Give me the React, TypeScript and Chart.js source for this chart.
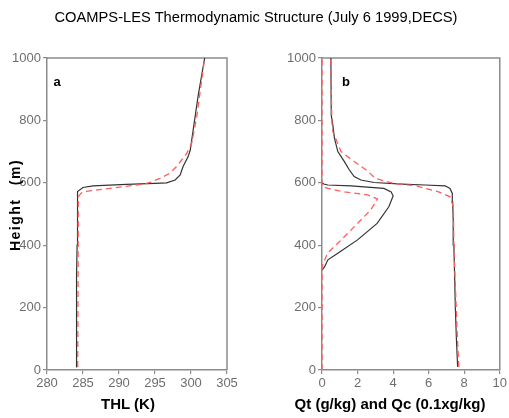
import React, { useEffect, useRef } from "react";
import { Chart, registerables } from "chart.js";

Chart.register(...registerables);

// ---------- text ----------
const chartTitle = "COAMPS-LES Thermodynamic Structure (July 6 1999,DECS)";
const yAxisTitle = "Height (m)";
const leftXTitle = "THL (K)";
const rightXTitle = "Qt (g/kg) and Qc (0.1xg/kg)";
const leftPanelLabel = "a";
const rightPanelLabel = "b";

// ---------- ticks ----------
const heightTicks = [0, 200, 400, 600, 800, 1000];
const thlTicks = [280, 285, 290, 295, 300, 305];
const qTicks = [0, 2, 4, 6, 8, 10];

// ---------- panel a: THL ----------
const thlSolidHeight = [10, 100, 200, 300, 400, 500, 560, 572, 585, 590, 595, 598, 600, 609, 625, 652, 684, 705, 769, 880, 1000];
const thlSolid = [284.03, 284.07, 284.1, 284.14, 284.18, 284.2, 284.22, 284.3, 285.0, 286.4, 291.0, 295.0, 296.6, 297.8, 298.5, 298.9, 299.6, 299.9, 300.3, 301.0, 301.9];

const thlDashHeight = [10, 200, 400, 555, 566, 571, 582, 590, 596, 601, 614, 630, 650, 673, 694, 727, 812, 1000];
const thlDash = [284.26, 284.3, 284.33, 284.35, 284.7, 285.0, 288.75, 291.5, 293.4, 294.3, 295.7, 297.0, 297.9, 298.7, 299.4, 300.1, 300.8, 301.9];

// ---------- panel b: Qt and Qc ----------
const qtSolidHeight = [10, 100, 200, 300, 400, 481, 540, 566, 582, 588, 590, 593, 596, 601, 609, 620, 641, 668, 700, 743, 785, 817, 1000];
const qtSolid = [7.63, 7.56, 7.5, 7.46, 7.42, 7.38, 7.35, 7.33, 7.2, 7.0, 6.93, 5.8, 4.5, 2.93, 2.19, 1.81, 1.54, 1.26, 0.89, 0.7, 0.61, 0.52, 0.5];

const qtDashHeight = [10, 100, 200, 300, 400, 523, 555, 571, 588, 590, 598, 614, 638, 668, 700, 764, 800, 1000];
const qtDash = [7.7, 7.62, 7.55, 7.48, 7.42, 7.39, 7.2, 6.56, 5.44, 5.33, 4.04, 3.0, 2.56, 1.81, 1.07, 0.61, 0.55, 0.5];

const qcSolidHeight = [320, 331, 353, 374, 417, 470, 523, 558, 571, 582, 590, 593, 596, 600];
const qcSolid = [0, 0.15, 0.33, 0.89, 2.0, 3.1, 3.76, 4.0, 3.89, 3.48, 1.63, 0.33, 0.1, 0];

const qcDashHeight = [0, 330, 374, 406, 470, 513, 548, 561, 571, 582, 588, 1000];
const qcDash = [0, 0, 0.3, 0.89, 2.0, 2.74, 3.12, 2.56, 1.26, 0.33, 0, 0];

// ---------- styles ----------
const FONT = '"Liberation Sans", Arial, Helvetica, sans-serif';
const AXIS = "#8c8c8c";
const TICK_TEXT = "#6e6e6e";
const SOLID = "#333333";
const DASH = "#ff5c5c";

function pts(h: number[], v: number[]) {
  return h.map((y, i) => ({ x: v[i], y }));
}

function solidSet(h: number[], v: number[]) {
  return {
    data: pts(h, v),
    showLine: true,
    borderColor: SOLID,
    borderWidth: 1.2,
    pointRadius: 0,
    tension: 0,
  };
}

function dashSet(h: number[], v: number[]) {
  return {
    data: pts(h, v),
    showLine: true,
    borderColor: DASH,
    borderWidth: 1.3,
    borderDash: [6, 4],
    pointRadius: 0,
    tension: 0,
  };
}

const framePlugin = {
  id: "frame",
  beforeDatasetsDraw(chart: any) {
    const { ctx, chartArea } = chart;
    const { left, top, right, bottom } = chartArea;
    ctx.save();
    ctx.strokeStyle = AXIS;
    ctx.lineWidth = 1.5;
    ctx.beginPath();
    ctx.moveTo(left, top);
    ctx.lineTo(right, top);
    ctx.lineTo(right, bottom);
    ctx.stroke();
    ctx.restore();
  },
};

function axisCommon(ticks: number[]) {
  return {
    type: "linear" as const,
    min: ticks[0],
    max: ticks[ticks.length - 1],
    afterBuildTicks: (s: any) => {
      s.ticks = ticks.map((v) => ({ value: v }));
    },
    grid: {
      display: true,
      drawOnChartArea: false,
      drawTicks: true,
      tickLength: 4,
      color: AXIS,
      lineWidth: 1.2,
    },
    border: { display: true, color: AXIS, width: 1.5 },
    ticks: {
      color: TICK_TEXT,
      font: { family: FONT, size: 13 },
      padding: 2,
      autoSkip: false,
      maxRotation: 0,
      callback: (v: any) => String(v),
    },
  };
}

interface PanelProps {
  left: number;
  width: number;
  yWidth: number;
  rightPad: number;
  xTicks: number[];
  datasets: any[];
}

function Panel({ left, width, yWidth, rightPad, xTicks, datasets }: PanelProps) {
  const ref = useRef<HTMLCanvasElement>(null);
  useEffect(() => {
    if (!ref.current) return;
    const chart = new Chart(ref.current, {
      type: "scatter",
      data: { datasets },
      options: {
        responsive: false,
        animation: false,
        layout: { padding: { left: 0, right: rightPad, top: 58, bottom: 0 } },
        plugins: {
          legend: { display: false },
          tooltip: { enabled: false },
        },
        scales: {
          x: {
            ...axisCommon(xTicks),
            afterFit: (s: any) => {
              s.height = 48;
            },
          },
          y: {
            ...axisCommon(heightTicks),
            afterFit: (s: any) => {
              s.width = yWidth;
            },
          },
        },
      } as any,
      plugins: [framePlugin],
    });
    return () => chart.destroy();
  }, []);
  return (
    <canvas
      ref={ref}
      width={width}
      height={418}
      style={{ position: "absolute", left, top: 0, width, height: 418 }}
    />
  );
}

const textBase: React.CSSProperties = {
  position: "absolute",
  transform: "translate(-50%, -50%)",
  whiteSpace: "nowrap",
  fontFamily: FONT,
  color: "#000",
  lineHeight: 1,
};

export default function App() {
  const leftSets = [dashSet(thlDashHeight, thlDash), solidSet(thlSolidHeight, thlSolid)];
  const rightSets = [
    dashSet(qtDashHeight, qtDash),
    dashSet(qcDashHeight, qcDash),
    solidSet(qtSolidHeight, qtSolid),
    solidSet(qcSolidHeight, qcSolid),
  ];
  return (
    <div style={{ position: "absolute", left: 0, top: 0, width: 509, height: 418, background: "#fff", overflow: "hidden" }}>
      <Panel left={0} width={250} yWidth={47} rightPad={23} xTicks={thlTicks} datasets={leftSets} />
      <Panel left={250} width={259} yWidth={72} rightPad={7} xTicks={qTicks} datasets={rightSets} />
      <div style={{ ...textBase, left: 256, top: 17, fontSize: 14.7 }}>{chartTitle}</div>
      <div style={{ ...textBase, left: 128, top: 403, fontSize: 15, fontWeight: "bold" }}>{leftXTitle}</div>
      <div style={{ ...textBase, left: 390, top: 403, fontSize: 15, fontWeight: "bold" }}>{rightXTitle}</div>
      <div
        style={{
          ...textBase,
          left: 15,
          top: 205,
          fontSize: 14,
          fontWeight: "bold",
          letterSpacing: 1.5,
          wordSpacing: 8,
          transform: "translate(-50%, -50%) rotate(-90deg)",
        }}
      >
        {yAxisTitle}
      </div>
      <div style={{ ...textBase, left: 57, top: 81, fontSize: 13, fontWeight: "bold" }}>{leftPanelLabel}</div>
      <div style={{ ...textBase, left: 346, top: 81, fontSize: 13, fontWeight: "bold" }}>{rightPanelLabel}</div>
    </div>
  );
}
